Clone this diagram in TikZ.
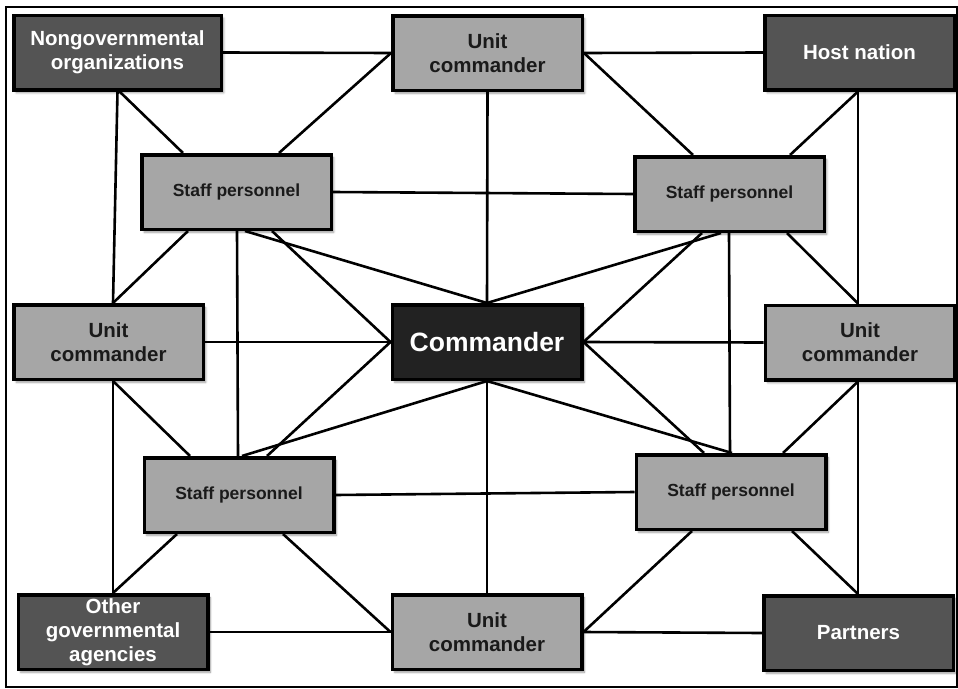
\documentclass[tikz,border=0pt]{standalone}
\usepackage{fontspec}
\setmainfont{Liberation Sans}
\usetikzlibrary{shadows.blur}

\definecolor{boxlight}{HTML}{A6A6A6}
\definecolor{boxdark}{HTML}{545454}
\definecolor{cmdfill}{HTML}{222222}
\definecolor{inktext}{HTML}{1A1A1A}

\pgfdeclarelayer{background}
\pgfsetlayers{background,main}

\begin{document}
\begin{tikzpicture}[x=1pt, y=-1pt,
  box/.style={draw=black, line width=3.5pt, minimum width=189.5pt,
    minimum height=74.5pt, inner sep=0pt, align=center,
    blur shadow={shadow xshift=2.5pt, shadow yshift=-3pt,
      shadow blur steps=6, shadow opacity=40}},
  unitbox/.style={box, fill=boxlight, text=inktext,
    font=\fontsize{20.5}{24}\selectfont\bfseries},
  staffbox/.style={box, fill=boxlight, text=inktext,
    font=\fontsize{17.5}{21}\selectfont\bfseries},
  extbox/.style={box, fill=boxdark, text=white,
    font=\fontsize{20.5}{24}\selectfont\bfseries},
  cmdbox/.style={box, fill=cmdfill, text=white,
    font=\fontsize{26.5}{30}\selectfont\bfseries},
  link/.style={draw=black, line width=2.6pt},
  frameline/.style={draw=black, line width=2.4pt}
]
\useasboundingbox (0,0) rectangle (958,688);
\draw[frameline] (6,7) rectangle (957,687);

% outer ring of partners
\node[extbox, minimum width=207.5pt] (ngo) at (117.5,52.5) {Nongovernmental\\organizations};
\node[extbox] (host) at (859.5,52.5) {Host nation};
\node[extbox] (oga) at (113,632) {Other\\governmental\\agencies};
\node[extbox] (ptn) at (858.5,633) {Partners};

% unit commanders
\node[unitbox] (tuc) at (487.5,53) {Unit\\commander};
\node[unitbox] (luc) at (108.5,342) {Unit\\commander};
\node[unitbox] (ruc) at (860,342.5) {Unit\\commander};
\node[unitbox] (buc) at (487,632) {Unit\\commander};

% staff
\node[staffbox] (stl) at (236.5,192) {Staff personnel};
\node[staffbox] (str) at (729.5,194) {Staff personnel};
\node[staffbox] (sbl) at (239,495) {Staff personnel};
\node[staffbox] (sbr) at (731,492) {Staff personnel};

% the commander
\node[cmdbox] (cmd) at (487,342) {Commander};

\begin{pgfonlayer}{background}
  % top row
  \draw[link] (ngo.east) -- (tuc.west);
  \draw[link] (tuc.east) -- (host.west);
  \draw[link] ([xshift=2pt]ngo.south) -- ([xshift=-53.5pt]stl.north);
  \draw[link] ([xshift=0pt]ngo.south) -- ([xshift=4.5pt]luc.north);
  \draw[link] (tuc.west) -- ([xshift=42.5pt]stl.north);
  \draw[link] (tuc.south) -- (cmd.north);
  \draw[link] (tuc.east) -- ([xshift=-36.5pt]str.north);
  \draw[link] ([xshift=-1.5pt]host.south) -- ([xshift=60.5pt]str.north);
  \draw[link] ([xshift=-1.5pt]host.south) -- ([xshift=-2pt]ruc.north);
  % upper staff
  \draw[link] (stl.east) -- (str.west);
  \draw[link] ([xshift=-48.5pt]stl.south) -- ([xshift=4.5pt]luc.north);
  \draw[link] ([xshift=0.5pt]stl.south) -- ([xshift=-1pt]sbl.north);
  \draw[link] ([xshift=8.5pt]stl.south) -- (cmd.north);
  \draw[link] ([xshift=35.5pt]stl.south) -- (cmd.west);
  \draw[link] ([xshift=-8.5pt]str.south) -- (cmd.north);
  \draw[link] ([xshift=-27.5pt]str.south) -- (cmd.east);
  \draw[link] ([xshift=-0.5pt]str.south) -- ([xshift=-1pt]sbr.north);
  \draw[link] ([xshift=57.5pt]str.south) -- ([xshift=-2pt]ruc.north);
  % middle row
  \draw[link] (luc.east) -- (cmd.west);
  \draw[link] (ruc.west) -- (cmd.east);
  \draw[link] ([xshift=4.5pt]luc.south) -- ([xshift=-49pt]sbl.north);
  \draw[link] ([xshift=4.5pt]luc.south) -- (oga.north);
  \draw[link] ([xshift=-2pt]ruc.south) -- ([xshift=52pt]sbr.north);
  \draw[link] ([xshift=-2pt]ruc.south) -- ([xshift=-0.5pt]ptn.north);
  % lower staff
  \draw[link] ([xshift=3pt]sbl.north) -- (cmd.south);
  \draw[link] ([xshift=28pt]sbl.north) -- (cmd.west);
  \draw[link] ([xshift=1pt]sbr.north) -- (cmd.south);
  \draw[link] ([xshift=-27pt]sbr.north) -- (cmd.east);
  \draw[link] (cmd.south) -- (buc.north);
  \draw[link] (sbl.east) -- (sbr.west);
  \draw[link] ([xshift=-62pt]sbl.south) -- (oga.north);
  \draw[link] ([xshift=44pt]sbl.south) -- (buc.west);
  \draw[link] ([xshift=-39pt]sbr.south) -- (buc.east);
  \draw[link] ([xshift=61pt]sbr.south) -- ([xshift=-0.5pt]ptn.north);
  % bottom row
  \draw[link] (oga.east) -- (buc.west);
  \draw[link] (buc.east) -- (ptn.west);
\end{pgfonlayer}
\end{tikzpicture}
\end{document}
